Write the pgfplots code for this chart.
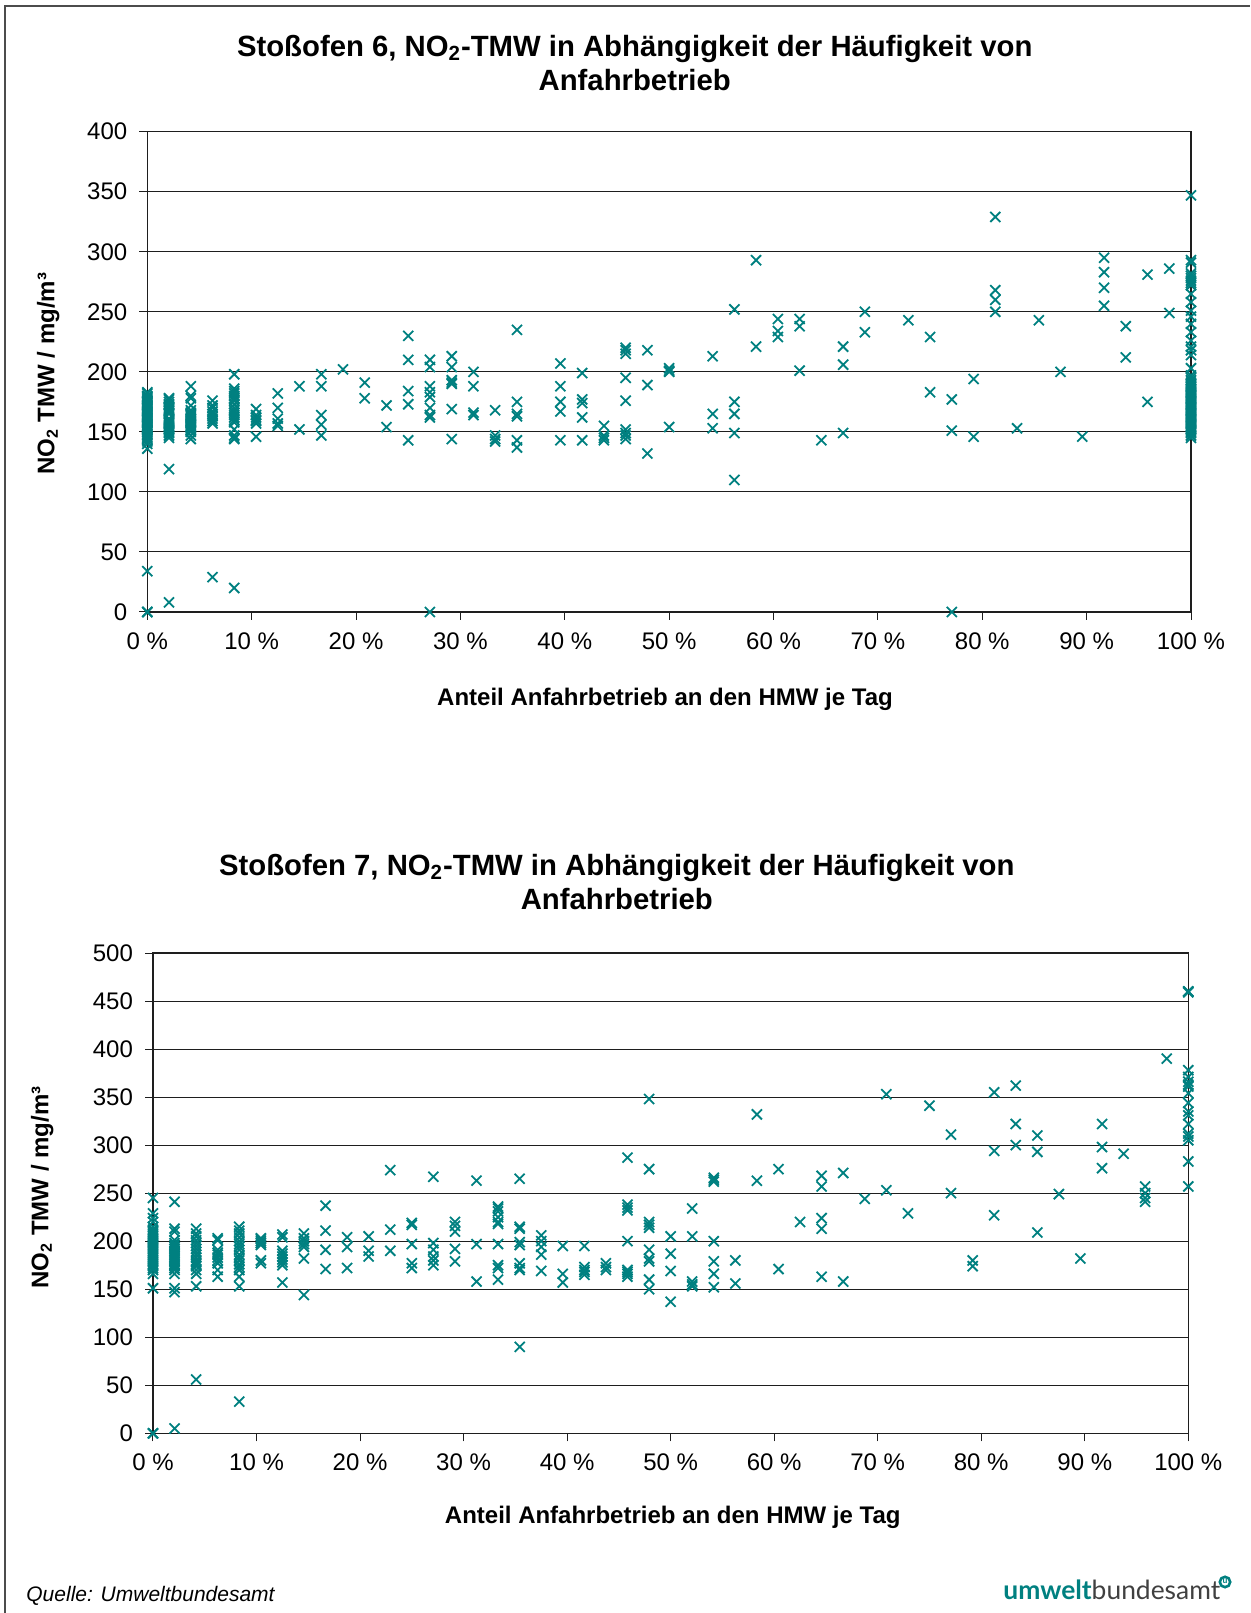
\documentclass[border=0pt]{standalone}
\usepackage{pgfplots}
\pgfplotsset{compat=1.18}
\usepackage{fontspec}
\setmainfont{Liberation Sans}
\newfontfamily\logofont{Lato}
\definecolor{teal8}{RGB}{0,128,128}
\definecolor{axisdark}{RGB}{30,30,30}
\pgfplotsset{
  myaxis/.style={
    scale only axis,
    xmin=0,xmax=100,
    xtick={0,10,20,30,40,50,60,70,80,90,100},
    xticklabels={0 \%,10 \%,20 \%,30 \%,40 \%,50 \%,60 \%,70 \%,80 \%,90 \%,100 \%},
    ymajorgrids=true,
    grid style={draw=axisdark,line width=0.5pt},
    axis line style={draw=axisdark,line width=0.6pt},
    major tick style={draw=axisdark,line width=0.5pt},
    tick align=outside,
    major tick length=4pt,
    tick pos=left,
    /pgf/number format/assume math mode=true,
    tick label style={font=\fontsize{12}{14}\selectfont,text=black},
    xticklabel style={yshift=-2.6pt},
    yticklabel style={xshift=-2.5pt},
    clip=false,
    title style={font=\bfseries\fontsize{14.65}{17}\selectfont,align=center,anchor=center},
    xlabel style={font=\bfseries\fontsize{12}{14}\selectfont,anchor=center},
    ylabel style={font=\bfseries\fontsize{12}{14}\selectfont,anchor=center,rotate=0},
  },
  mk/.style={only marks,mark=x,mark size=3.55pt,
    mark options={draw=teal8,line width=0.9pt},draw=teal8}
}
\begin{document}
\begin{tikzpicture}
\path[use as bounding box] (0,0) rectangle (625pt,806.5pt);
\draw[draw=black!70,line width=1pt] (2.4pt,0) -- (2.4pt,803.6pt) -- (625pt,803.6pt);
\begin{axis}[myaxis,
  at={(73.65pt,500.5pt)},anchor=south west,
  width=521.85pt,height=240.15pt,
  ymin=0,ymax=400,ytick={0,50,100,150,200,250,300,350,400},
  title={Stoßofen 6, NO\textsubscript{2}-TMW in Abhängigkeit der Häufigkeit von\\Anfahrbetrieb},
  title style={at={(axis description cs:0.467,1.119)}},
  xlabel={Anteil Anfahrbetrieb an den HMW je Tag},
  xlabel style={at={(axis description cs:0.496,-0.182)}},
  ylabel={NO\textsubscript{2} TMW / mg/m³},
  ylabel style={at={(axis description cs:-0.095,0.496)},rotate=0},
]
\addplot[mk] coordinates {
(0,0)(0,0)(0,0)(0,34)(0,136)(0,140)(0,142)(0,144)(0,145)(0,146)(0,148)(0,150)(0,151)(0,152)(0,153)(0,154)(0,155)(0,156)(0,157)(0,158)(0,159)(0,160)(0,161)(0,162)(0,163)(0,164)(0,165)(0,166)(0,167)(0,168)(0,169)(0,170)(0,171)(0,172)(0,173)(0,174)(0,175)(0,176)(0,177)(0,178)(0,179)(0,180)(0,182)(0,183)
(2.08,8)(2.08,119)(2.08,145)(2.08,147)(2.08,149)(2.08,150)(2.08,151)(2.08,152)(2.08,153)(2.08,154)(2.08,155)(2.08,156)(2.08,157)(2.08,158)(2.08,159)(2.08,160)(2.08,161)(2.08,165)(2.08,166)(2.08,167)(2.08,168)(2.08,169)(2.08,170)(2.08,171)(2.08,172)(2.08,173)(2.08,175)(2.08,177)(2.08,178)
(4.17,144)(4.17,147)(4.17,150)(4.17,151)(4.17,152)(4.17,153)(4.17,154)(4.17,155)(4.17,156)(4.17,157)(4.17,158)(4.17,159)(4.17,160)(4.17,161)(4.17,162)(4.17,163)(4.17,164)(4.17,165)(4.17,166)(4.17,168)(4.17,172)(4.17,178)(4.17,180)(4.17,188)
(6.25,29)(6.25,157)(6.25,159)(6.25,161)(6.25,163)(6.25,165)(6.25,167)(6.25,170)(6.25,172)(6.25,176)
(8.33,20)(8.33,144)(8.33,145)(8.33,147)(8.33,152)(8.33,158)(8.33,160)(8.33,162)(8.33,164)(8.33,166)(8.33,168)(8.33,170)(8.33,173)(8.33,176)(8.33,178)(8.33,180)(8.33,182)(8.33,184)(8.33,186)(8.33,198)
(10.42,146)(10.42,157)(10.42,159)(10.42,160)(10.42,162)(10.42,164)(10.42,169)
(12.5,155)(12.5,157)(12.5,161)(12.5,170)(12.5,182)
(14.58,152)(14.58,188)
(16.67,147)(16.67,156)(16.67,164)(16.67,188)(16.67,198)
(18.75,202)
(20.83,178)(20.83,191)
(22.92,154)(22.92,172)
(25,143)(25,173)(25,184)(25,210)(25,230)
(27.08,0)(27.08,162)(27.08,164)(27.08,170)(27.08,179)(27.08,183)(27.08,188)(27.08,204)(27.08,210)
(29.17,144)(29.17,169)(29.17,190)(29.17,191)(29.17,193)(29.17,204)(29.17,213)
(31.25,164)(31.25,166)(31.25,188)(31.25,200)
(33.33,142)(33.33,144)(33.33,147)(33.33,168)
(35.42,137)(35.42,143)(35.42,163)(35.42,165)(35.42,175)(35.42,235)
(39.58,143)(39.58,167)(39.58,175)(39.58,188)(39.58,207)
(41.67,143)(41.67,162)(41.67,174)(41.67,177)(41.67,199)
(43.75,143)(43.75,145)(43.75,147)(43.75,155)
(45.83,144)(45.83,147)(45.83,149)(45.83,152)(45.83,176)(45.83,195)(45.83,215)(45.83,218)(45.83,220)
(47.92,132)(47.92,189)(47.92,218)
(50,154)(50,200)(50,201)(50,203)
(54.17,153)(54.17,165)(54.17,213)
(56.25,110)(56.25,149)(56.25,165)(56.25,175)(56.25,252)
(58.33,221)(58.33,293)
(60.42,229)(60.42,234)(60.42,244)
(62.5,201)(62.5,238)(62.5,244)
(64.58,143)
(66.67,149)(66.67,206)(66.67,221)
(68.75,233)(68.75,250)
(72.92,243)
(75,183)(75,229)
(77.08,0)(77.08,151)(77.08,177)
(79.17,146)(79.17,194)
(81.25,250)(81.25,260)(81.25,268)(81.25,329)
(83.33,153)
(85.42,243)
(87.5,200)
(89.58,146)
(91.67,255)(91.67,270)(91.67,283)(91.67,295)
(93.75,212)(93.75,238)
(95.83,175)(95.83,281)
(97.92,249)(97.92,286)
(100,145)(100,147)(100,149)(100,150)(100,151)(100,152)(100,153)(100,154)(100,155)(100,156)(100,157)(100,158)(100,159)(100,160)(100,161)(100,162)(100,163)(100,164)(100,165)(100,166)(100,167)(100,168)(100,169)(100,170)(100,171)(100,172)(100,173)(100,174)(100,175)(100,176)(100,177)(100,178)(100,179)(100,180)(100,181)(100,182)(100,183)(100,184)(100,185)(100,186)(100,187)(100,188)(100,189)(100,190)(100,191)(100,193)(100,195)(100,197)(100,203)(100,214)(100,218)(100,221)(100,226)(100,233)(100,240)(100,246)(100,251)(100,258)(100,265)(100,272)(100,274)(100,276)(100,278)(100,280)(100,282)(100,291)(100,293)(100,347)
};
\end{axis}
\begin{axis}[myaxis,
  at={(76.5pt,89.85pt)},anchor=south west,
  width=517.65pt,height=240.15pt,
  ymin=0,ymax=500,ytick={0,50,100,150,200,250,300,350,400,450,500},
  title={Stoßofen 7, NO\textsubscript{2}-TMW in Abhängigkeit der Häufigkeit von\\Anfahrbetrieb},
  title style={at={(axis description cs:0.448,1.1235)}},
  xlabel={Anteil Anfahrbetrieb an den HMW je Tag},
  xlabel style={at={(axis description cs:0.502,-0.175)}},
  ylabel={NO\textsubscript{2} TMW / mg/m³},
  ylabel style={at={(axis description cs:-0.107,0.512)},rotate=0},
]
\addplot[mk] coordinates {
(0,0)(0,0)(0,0)(0,151)(0,166)(0,170)(0,172)(0,174)(0,176)(0,178)(0,180)(0,182)(0,184)(0,186)(0,188)(0,190)(0,192)(0,194)(0,196)(0,198)(0,200)(0,202)(0,204)(0,206)(0,208)(0,210)(0,212)(0,215)(0,220)(0,224)(0,229)(0,245)
(2.08,5)(2.08,147)(2.08,151)(2.08,166)(2.08,170)(2.08,172)(2.08,174)(2.08,176)(2.08,178)(2.08,180)(2.08,182)(2.08,184)(2.08,186)(2.08,188)(2.08,190)(2.08,192)(2.08,194)(2.08,196)(2.08,198)(2.08,201)(2.08,210)(2.08,213)(2.08,241)
(4.17,56)(4.17,153)(4.17,166)(4.17,170)(4.17,174)(4.17,176)(4.17,178)(4.17,180)(4.17,183)(4.17,186)(4.17,189)(4.17,192)(4.17,195)(4.17,198)(4.17,201)(4.17,205)(4.17,208)(4.17,213)
(6.25,163)(6.25,170)(6.25,177)(6.25,180)(6.25,183)(6.25,186)(6.25,188)(6.25,191)(6.25,201)(6.25,203)
(8.33,33)(8.33,153)(8.33,163)(8.33,170)(8.33,173)(8.33,176)(8.33,180)(8.33,183)(8.33,186)(8.33,191)(8.33,194)(8.33,197)(8.33,200)(8.33,204)(8.33,208)(8.33,211)(8.33,215)
(10.42,177)(10.42,180)(10.42,196)(10.42,198)(10.42,200)(10.42,202)(10.42,203)
(12.5,157)(12.5,175)(12.5,178)(12.5,181)(12.5,184)(12.5,187)(12.5,190)(12.5,204)(12.5,207)
(14.58,144)(14.58,182)(14.58,194)(14.58,197)(14.58,200)(14.58,203)(14.58,208)
(16.67,171)(16.67,191)(16.67,211)(16.67,237)
(18.75,172)(18.75,194)(18.75,204)
(20.83,184)(20.83,190)(20.83,205)
(22.92,190)(22.92,212)(22.92,274)
(25,172)(25,177)(25,197)(25,217)(25,219)
(27.08,175)(27.08,180)(27.08,184)(27.08,191)(27.08,198)(27.08,267)
(29.17,179)(29.17,192)(29.17,210)(29.17,216)(29.17,220)
(31.25,158)(31.25,197)(31.25,263)
(33.33,160)(33.33,172)(33.33,175)(33.33,197)(33.33,218)(33.33,220)(33.33,225)(33.33,231)(33.33,234)(33.33,236)
(35.42,90)(35.42,170)(35.42,172)(35.42,177)(35.42,196)(35.42,199)(35.42,213)(35.42,215)(35.42,265)
(37.5,169)(37.5,186)(37.5,194)(37.5,200)(37.5,206)
(39.58,157)(39.58,166)(39.58,195)
(41.67,165)(41.67,168)(41.67,170)(41.67,173)(41.67,195)
(43.75,170)(43.75,173)(43.75,177)
(45.83,163)(45.83,166)(45.83,168)(45.83,170)(45.83,200)(45.83,232)(45.83,235)(45.83,238)(45.83,287)
(47.92,150)(47.92,160)(47.92,179)(47.92,182)(47.92,191)(47.92,214)(47.92,217)(47.92,220)(47.92,275)(47.92,348)
(50,137)(50,169)(50,187)(50,205)
(52.08,153)(52.08,155)(52.08,158)(52.08,205)(52.08,234)
(54.17,152)(54.17,166)(54.17,179)(54.17,200)(54.17,262)(54.17,264)(54.17,266)
(56.25,156)(56.25,180)
(58.33,263)(58.33,332)
(60.42,171)(60.42,275)
(62.5,220)
(64.58,163)(64.58,213)(64.58,224)(64.58,257)(64.58,268)
(66.67,158)(66.67,271)
(68.75,244)
(70.83,253)(70.83,353)
(72.92,229)
(75,341)
(77.08,250)(77.08,311)
(79.17,174)(79.17,180)
(81.25,227)(81.25,294)(81.25,355)
(83.33,300)(83.33,322)(83.33,362)
(85.42,209)(85.42,293)(85.42,310)
(87.5,249)
(89.58,182)
(91.67,276)(91.67,298)(91.67,322)
(93.75,291)
(95.83,241)(95.83,245)(95.83,250)(95.83,257)
(97.92,390)
(100,257)(100,283)(100,305)(100,309)(100,312)(100,322)(100,331)(100,335)(100,344)(100,354)(100,361)(100,363)(100,366)(100,371)(100,378)(100,459)(100,460)(100,460)
};
\end{axis}
\node[anchor=base west,inner sep=0pt,font=\itshape\fontsize{10.5}{12}\selectfont] at (13pt,5.5pt) {Quelle: Umweltbundesamt};
\node[anchor=base west,inner sep=0pt,font=\logofont\fontsize{13.2}{15}\selectfont] at (501.5pt,6.5pt) {\textcolor{teal8}{\bfseries umwelt}\textcolor{black!75}{bundesamt}};
\draw[teal8,line width=1.3pt] (612.5pt,15.5pt) circle (2.6pt);
\node[text=teal8,inner sep=0pt,font=\bfseries\fontsize{4}{4}\selectfont] at (612.5pt,15.6pt) {u};
\end{tikzpicture}
\end{document}
